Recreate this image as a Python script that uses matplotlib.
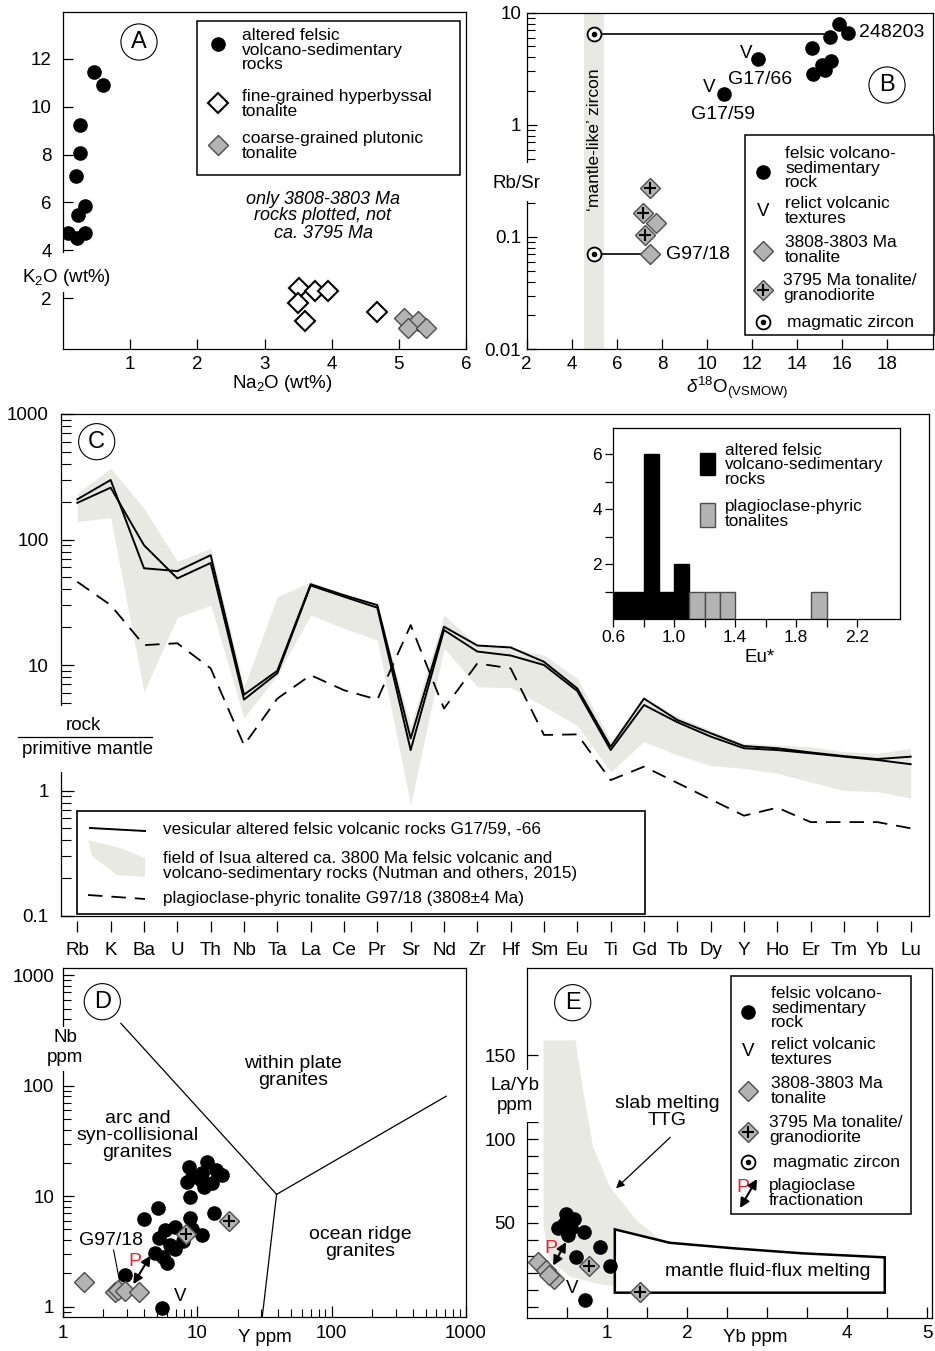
import matplotlib
matplotlib.use('Agg')
import matplotlib.pyplot as plt
import numpy as np
from matplotlib.transforms import Affine2D
from matplotlib.lines import Line2D
from matplotlib.patches import Rectangle, Polygon, FancyArrowPatch
from matplotlib.ticker import LogLocator, NullFormatter

plt.rcParams['font.family'] = ['Liberation Sans', 'DejaVu Sans']
plt.rcParams['mathtext.fontset'] = 'custom'
plt.rcParams['mathtext.rm'] = 'Liberation Sans'
plt.rcParams['mathtext.it'] = 'Liberation Sans:italic'
plt.rcParams['axes.linewidth'] = 0.9

# ---------------- data ----------------
# A: Na2O vs K2O (wt%)
a_na2o_felsic = [0.46, 0.59, 0.25, 0.26, 0.20, 0.33, 0.22, 0.08, 0.21, 0.33]
a_k2o_felsic = [11.46, 10.89, 9.23, 8.05, 7.10, 5.85, 5.48, 4.74, 4.50, 4.74]
a_na2o_fine = [3.51, 3.75, 3.95, 3.50, 3.60, 4.67]
a_k2o_fine = [2.42, 2.32, 2.32, 1.79, 1.05, 1.44]
a_na2o_coarse = [5.07, 5.29, 5.13, 5.41]
a_k2o_coarse = [1.17, 1.03, 0.75, 0.75]

# B: d18O vs Rb/Sr
b_d18o_felsic = [15.88, 15.46, 16.27, 14.68, 12.28, 15.49, 15.09, 14.72, 15.24, 10.76]
b_rbsr_felsic = [7.86, 6.05, 6.62, 4.80, 3.87, 3.69, 3.40, 2.86, 3.11, 1.88]
b_d18o_ton = [7.74, 7.47]
b_rbsr_ton = [0.133, 0.070]
b_d18o_3795 = [7.47, 7.18, 7.25]
b_rbsr_3795 = [0.271, 0.162, 0.1035]
b_d18o_zircon = [5.0, 5.0]
b_rbsr_zircon = [6.5, 0.07]
b_tie_end = [15.3, 7.3]
b_mantle_band = (4.55, 5.45)

# C: primitive-mantle normalised patterns
elements = ['Rb', 'K', 'Ba', 'U', 'Th', 'Nb', 'Ta', 'La', 'Ce', 'Pr', 'Sr', 'Nd', 'Zr',
            'Hf', 'Sm', 'Eu', 'Ti', 'Gd', 'Tb', 'Dy', 'Y', 'Ho', 'Er', 'Tm', 'Yb', 'Lu']
c_g1759 = [209, 298, 59, 56, 75, 5.8, 9.0, 44, 36, 30, 2.6, 20.2, 14.3, 13.8, 10.6, 6.5,
           2.23, 5.4, 3.65, 2.86, 2.26, 2.17, 2.01, 1.88, 1.78, 1.86]
c_g1766 = [196, 259, 90, 49, 65, 5.3, 8.6, 43, 35, 28.6, 2.1, 19.0, 12.8, 11.9, 10.0, 6.2,
           2.1, 4.8, 3.5, 2.69, 2.17, 2.1, 1.98, 1.86, 1.75, 1.62]
c_g9718 = [46, 30, 14.4, 14.9, 9.4, 2.3, 5.4, 8.3, 6.3, 5.3, 20.8, 4.5, 10.3, 9.4, 2.77, 2.8,
           1.21, 1.55, 1.15, 0.85, 0.63, 0.73, 0.56, 0.56, 0.56, 0.50]
c_field_hi = [233, 369, 177, 67, 85, 6.7, 35, 46, 37, 30, 3.3, 25, 14.4, 13.8, 12, 7.8,
              2.5, 5.4, 3.9, 3.03, 2.38, 2.3, 2.23, 2.04, 1.98, 2.17]
c_field_lo = [139, 149, 6.1, 24, 30, 3.8, 8.3, 25, 19.6, 15.8, 0.77, 13.6, 6.7, 6.6, 4.7, 3.3,
              1.41, 2.45, 1.92, 1.58, 1.5, 1.37, 1.17, 1.0, 0.98, 0.87]

# C inset: Eu* histogram
eu_bins_felsic = [0.6, 0.7, 0.8, 0.9, 1.0]
eu_counts_felsic = [1, 1, 6, 1, 2]
eu_bins_tonalite = [1.1, 1.2, 1.3, 1.9]
eu_counts_tonalite = [1, 1, 1, 1]

# D: Y vs Nb (ppm)
d_y_felsic = [8.66, 11.9, 13.7, 15.4, 9.2, 10.9, 10.6, 11.2, 12.9, 8.4, 8.9, 5.1, 4.0, 13.3,
              8.9, 5.8, 6.9, 5.2, 10.9, 9.2, 6.3, 4.9, 5.6, 6.0, 6.9, 7.9, 2.9, 5.5]
d_nb_felsic = [18.5, 20.5, 17.3, 15.6, 15.0, 16.1, 14.0, 12.2, 13.1, 13.5, 9.9, 7.8, 6.2, 7.0,
               6.3, 4.9, 5.3, 4.2, 4.5, 5.1, 3.6, 3.04, 2.8, 2.5, 3.3, 3.9, 1.94, 0.97]
d_y_ton = [1.43, 2.46, 2.6, 2.92, 3.7]
d_nb_ton = [1.66, 1.37, 1.42, 1.40, 1.35]
d_y_3795 = [8.2, 17.4]
d_nb_3795 = [4.55, 6.0]
d_triple = (39, 10.4)
d_bound_ends = [(2.71, 367), (713, 80.5), (30.5, 0.807)]

# E: Yb vs La/Yb
e_yb_felsic = [0.49, 0.59, 0.39, 0.72, 0.55, 0.51, 0.47, 0.91, 0.62, 1.04, 0.73]
e_layb_felsic = [55, 52, 46.7, 44.6, 46.7, 42.7, 49.6, 35.7, 29.4, 24.2, 4.0]
e_yb_ton = [0.14, 0.24, 0.34, 0.28]
e_layb_ton = [26.8, 21.8, 16.3, 18.9]
e_yb_3795 = [0.78, 1.41]
e_layb_3795 = [24.2, 8.9]
e_ttg_x = [0.21, 0.61, 0.70, 0.83, 1.04, 1.37, 1.62, 1.87, 1.87, 0.95, 0.54, 0.29, 0.21]
e_ttg_y = [159, 159, 130, 95.2, 71.4, 51.6, 41.7, 35.7, 9.9, 12.9, 17.9, 27.8, 47.6]
e_ff_x = [1.10, 1.785, 2.61, 3.44, 4.47, 4.47, 1.10]
e_ff_y = [46.1, 38.1, 34.7, 31.8, 29.4, 8.3, 8.3]

# ---------------- figure ----------------
W, H = 935, 1351
fig = plt.figure(figsize=(W / 100, H / 100), dpi=100)
px = Affine2D().scale(1 / W, -1 / H).translate(0, 1) + fig.transFigure

GRAY = '#b3b3b3'
EDGE = '#4d4d4d'
FIELD = '#e9e9e4'
RED = '#e8262b'
MS_C = 9.5
MS_D = 10


def axes_px(l, t, r, b):
    return fig.add_axes([l / W, 1 - b / H, (r - l) / W, (b - t) / H])


def ftext(x, y, s, **kw):
    kw.setdefault('ha', 'center')
    kw.setdefault('va', 'center')
    return fig.text(x, y, s, transform=px, **kw)


def fmark(x, y, **kw):
    fig.add_artist(Line2D([x], [y], transform=px, **kw))


def fline(xs, ys, **kw):
    fig.add_artist(Line2D(xs, ys, transform=px, **kw))


def fbox(l, t, r, b, lw=1.1):
    fig.add_artist(Rectangle((l, t), r - l, b - t, transform=px, fc='white', ec='black',
                             lw=lw, zorder=1.5))


def gap(x, y0, y1):
    fig.add_artist(Rectangle((x - 5, y0), 17, y1 - y0, transform=px, fc='white', ec='none',
                             zorder=1.2))


def letter(x, y, s):
    ftext(x, y, s, fontsize=17, bbox=dict(boxstyle='circle,pad=0.3', fc='white', ec='black',
                                          lw=0.8))


def m_felsic(x, y):
    fmark(x, y, marker='o', color='black', ms=MS_C)


def m_ton(x, y):
    fmark(x, y, marker='D', mfc=GRAY, mec=EDGE, mew=1, ms=MS_D)


def m_3795(x, y):
    m_ton(x, y)
    fmark(x, y, marker='+', color='black', ms=8, mew=1.5)


def m_zircon(x, y):
    fmark(x, y, marker='o', mfc='white', mec='black', ms=10, mew=1.3)
    fmark(x, y, marker='o', color='black', ms=3)


def plot_3795(ax, x, y):
    ax.plot(x, y, 'D', mfc=GRAY, mec=EDGE, mew=1, ms=MS_D, zorder=4)
    ax.plot(x, y, '+', color='black', ms=8, mew=1.5, zorder=5)


def legend_text(x, y, s, fs=12.5):
    ftext(x, y, s, ha='left', fontsize=fs, linespacing=0.92, zorder=3)


def p_arrow():
    return dict(arrowstyle='<|-|>,head_length=0.55,head_width=0.28', mutation_scale=10,
                color='black', lw=1.5, shrinkA=0, shrinkB=0)


# ---------------- A ----------------
axA = axes_px(63, 12, 466, 349)
axA.set_xlim(0, 6)
axA.set_ylim(-0.12, 13.95)
axA.set_xticks([1, 2, 3, 4, 5, 6])
axA.set_yticks([2, 4, 6, 8, 10, 12])
axA.tick_params(direction='in', length=7, width=0.9, labelsize=13.5)
axA.tick_params(axis='y', pad=8)
axA.tick_params(axis='x', pad=5)
axA.plot(a_na2o_felsic, a_k2o_felsic, 'o', color='black', ms=MS_C)
axA.plot(a_na2o_fine, a_k2o_fine, 'D', mfc='white', mec='black', mew=1.5, ms=MS_D)
axA.plot(a_na2o_coarse, a_k2o_coarse, 'D', mfc=GRAY, mec=EDGE, mew=1, ms=MS_D)
gap(63, 253, 292)
ftext(67, 277, 'K$_2$O (wt%)', fontsize=13.5, zorder=3)
ftext(282, 383, 'Na$_2$O (wt%)', fontsize=13.5)
ftext(323, 216, 'only 3808-3803 Ma\nrocks plotted, not\nca. 3795 Ma', fontsize=13,
      style='italic', linespacing=1.0)
letter(139, 42, 'A')
fbox(197, 21, 460, 175)
m_felsic(218, 44)
legend_text(242, 50, 'altered felsic\nvolcano-sedimentary\nrocks')
fmark(218, 103, marker='D', mfc='white', mec='black', mew=1.5, ms=MS_D)
legend_text(242, 104, 'fine-grained hyperbyssal\ntonalite')
fmark(218, 145, marker='D', mfc=GRAY, mec=EDGE, mew=1, ms=MS_D)
legend_text(242, 146, 'coarse-grained plutonic\ntonalite')

# ---------------- B ----------------
axB = axes_px(526.7, 12.7, 933, 349)
axB.set_yscale('log')
axB.set_xlim(2, 20.03)
axB.set_ylim(0.01, 10)
axB.set_xticks(range(2, 20, 2))
axB.set_yticks([0.01, 0.1, 1, 10], ['0.01', '0.1', '1', '10'])
axB.yaxis.set_minor_locator(LogLocator(subs=np.arange(2, 10)))
axB.yaxis.set_minor_formatter(NullFormatter())
axB.tick_params(direction='in', length=7, width=0.9, labelsize=13.5)
axB.tick_params(which='minor', direction='in', length=6, width=0.8)
axB.tick_params(axis='y', pad=4)
axB.tick_params(axis='x', pad=5)
axB.axvspan(*b_mantle_band, color=FIELD, lw=0, zorder=0)
axB.text(np.mean(b_mantle_band), 0.73, '\u2018mantle-like\u2019 zircon', rotation=90,
         ha='center', va='center', fontsize=12.5)
for xz, yz, xe in zip(b_d18o_zircon, b_rbsr_zircon, b_tie_end):
    axB.plot([xz, xe], [yz, yz], color='black', lw=1.2, zorder=1)
axB.plot(b_d18o_zircon, b_rbsr_zircon, 'o', mfc='white', mec='black', ms=10, mew=1.3, zorder=3)
axB.plot(b_d18o_zircon, b_rbsr_zircon, 'o', color='black', ms=3, zorder=4)
axB.plot(b_d18o_felsic, b_rbsr_felsic, 'o', color='black', ms=MS_C, zorder=3)
axB.plot(b_d18o_ton, b_rbsr_ton, 'D', mfc=GRAY, mec=EDGE, mew=1, ms=MS_D, zorder=3)
plot_3795(axB, b_d18o_3795, b_rbsr_3795)
axB.text(16.75, 6.6, '248203', ha='left', va='center', fontsize=14)
axB.text(11.76, 4.3, 'V', ha='center', va='center', fontsize=13.5)
axB.text(12.36, 2.53, 'G17/66', ha='center', va='center', fontsize=14)
axB.text(10.09, 2.15, 'V', ha='center', va='center', fontsize=13.5)
axB.text(10.73, 1.23, 'G17/59', ha='center', va='center', fontsize=14)
axB.text(8.2, 0.07, 'G97/18', ha='left', va='center', fontsize=14)
gap(526.7, 163, 201)
ftext(517, 184, 'Rb/Sr', fontsize=13.5, zorder=3)
ftext(737, 388, r'$\delta^{18}$O$_{\mathrm{(VSMOW)}}$', fontsize=13.5)
letter(887, 85, 'B')
fbox(745, 135, 934, 335)
m_felsic(763, 172)
legend_text(785, 168, 'felsic volcano-\nsedimentary\nrock')
ftext(763, 212, 'V', fontsize=13.5, zorder=3)
legend_text(785, 211, 'relict volcanic\ntextures')
m_ton(763, 251)
legend_text(785, 250, '3808-3803 Ma\ntonalite')
m_3795(763, 290)
legend_text(783, 288, '3795 Ma tonalite/\ngranodiorite')
m_zircon(763, 322)
legend_text(787, 322, 'magmatic zircon')

# ---------------- C ----------------
axC = axes_px(61, 414, 929, 916)
axC.set_yscale('log')
axC.set_ylim(0.1, 1000)
axC.set_xlim(-0.49, 25.55)
xi = np.arange(len(elements))
axC.fill_between(xi, c_field_lo, c_field_hi, color=FIELD, lw=0, zorder=1)
axC.plot(xi, c_g1759, color='black', lw=1.4, zorder=3)
axC.plot(xi, c_g1766, color='black', lw=1.4, zorder=3)
axC.plot(xi, c_g9718, color='black', lw=1.3, ls=(0, (8, 5)), zorder=3)
axC.set_xticks(xi, elements)
axC.tick_params(axis='x', length=0, pad=19, labelsize=13.5)
axC.vlines(xi, -0.01, -0.032, transform=axC.get_xaxis_transform(), color='black', lw=0.9,
           clip_on=False)
axC.set_yticks([0.1, 1, 10, 100, 1000], ['0.1', '1', '10', '100', '1000'])
axC.yaxis.set_minor_locator(LogLocator(subs=np.arange(2, 10)))
axC.yaxis.set_minor_formatter(NullFormatter())
axC.tick_params(axis='y', which='major', direction='in', length=9, width=0.9, labelsize=13.5,
                pad=9)
axC.tick_params(axis='y', which='minor', direction='in', length=7, width=0.8)
gap(61, 706, 772)
ftext(83, 726, 'rock', fontsize=13.5, zorder=3)
fline([18, 152], [737, 737], color='black', lw=0.9, zorder=3)
ftext(87, 750, 'primitive mantle', fontsize=13.5, zorder=3)
letter(96.7, 441.7, 'C')
fbox(77, 811, 645, 914, lw=1.2)
fline([90, 145], [828, 831], color='black', lw=1.4, zorder=3)
legend_text(163, 830, 'vesicular altered felsic volcanic rocks G17/59, -66', fs=12.3)
fig.add_artist(Polygon([(88, 840), (120, 848), (145, 858), (145, 877), (117, 875), (92, 856)],
                       closed=True, transform=px, fc=FIELD, ec='none', zorder=2))
legend_text(163, 866, 'field of Isua altered ca. 3800 Ma felsic volcanic and\n'
            'volcano-sedimentary rocks (Nutman and others, 2015)', fs=12.3)
fline([88, 145], [895, 899], color='black', lw=1.3, ls=(0, (8, 5)), zorder=3)
legend_text(163, 899, 'plagioclase-phyric tonalite G97/18 (3808\u00b14 Ma)', fs=12.3)

# inset histogram
axI = axes_px(613, 428, 900, 619)
axI.bar(eu_bins_felsic, eu_counts_felsic, width=0.1, align='edge', color='black',
        edgecolor='black', lw=1)
axI.bar(eu_bins_tonalite, eu_counts_tonalite, width=0.1, align='edge', color=GRAY,
        edgecolor=EDGE, lw=1)
axI.set_xlim(0.6, 2.48)
axI.set_ylim(0, 6.95)
xt = np.round(np.arange(0.6, 2.21, 0.2), 1)
axI.set_xticks(xt, [f'{v:.1f}' if i % 2 == 0 else '' for i, v in enumerate(xt)])
axI.set_yticks(range(1, 7), ['', '2', '', '4', '', '6'])
axI.tick_params(direction='out', length=6, width=0.9, labelsize=12.5, pad=2)
ftext(760, 657, 'Eu*', fontsize=13.5)
fig.add_artist(Rectangle((700, 453), 15, 22, transform=px, fc='black', ec='black', zorder=2))
legend_text(725, 465, 'altered felsic\nvolcano-sedimentary\nrocks', fs=12.3)
fig.add_artist(Rectangle((700, 503), 15, 24, transform=px, fc=GRAY, ec=EDGE, lw=1, zorder=2))
legend_text(725, 514, 'plagioclase-phyric\ntonalites', fs=12.3)

# ---------------- D ----------------
axD = axes_px(62.7, 968.3, 466, 1317)
axD.set_xscale('log')
axD.set_yscale('log')
axD.set_xlim(1, 1000)
axD.set_ylim(0.807, 1157)
for xe, ye in d_bound_ends:
    axD.plot([d_triple[0], xe], [d_triple[1], ye], color='black', lw=0.9, zorder=1)
axD.plot(d_y_felsic, d_nb_felsic, 'o', color='black', ms=MS_C, zorder=3)
axD.plot(d_y_ton, d_nb_ton, 'D', mfc=GRAY, mec=EDGE, mew=1, ms=MS_D, zorder=3)
plot_3795(axD, d_y_3795, d_nb_3795)
axD.set_xticks([1, 10, 100, 1000], ['1', '10', '100', '1000'])
axD.set_yticks([1, 10, 100, 1000], ['1', '10', '100', '1000'])
for axis in (axD.xaxis, axD.yaxis):
    axis.set_minor_locator(LogLocator(subs=np.arange(2, 10)))
    axis.set_minor_formatter(NullFormatter())
axD.tick_params(which='major', direction='in', length=8, width=0.9, labelsize=13.5, pad=6)
axD.tick_params(which='minor', direction='in', length=6, width=0.8)
axD.text(52, 134, 'within plate\ngranites', ha='center', va='center', fontsize=14,
         linespacing=1.0)
axD.text(3.6, 35.8, 'arc and\nsyn-collisional\ngranites', ha='center', va='center',
         fontsize=14, linespacing=1.0)
axD.text(163, 3.75, 'ocean ridge\ngranites', ha='center', va='center', fontsize=14,
         linespacing=1.0)
axD.text(2.29, 4.0, 'G97/18', ha='center', va='center', fontsize=14)
axD.plot([2.39, 2.64], [3.26, 1.74], color='black', lw=0.8)
axD.text(3.46, 2.55, 'P', ha='center', va='center', fontsize=14, color=RED)
axD.add_patch(FancyArrowPatch((4.5, 2.9), (3.35, 1.6), zorder=5, **p_arrow()))
axD.text(7.53, 1.25, 'V', ha='center', va='center', fontsize=13.5)
gap(62.7, 1027, 1071)
ftext(65, 1037, 'Nb', fontsize=13.5, zorder=3)
ftext(65, 1057, 'ppm', fontsize=13.5, zorder=3)
ftext(265, 1337, 'Y ppm', fontsize=13.5)
letter(102.3, 1001.7, 'D')

# ---------------- E ----------------
axE = axes_px(526.7, 968.3, 931.7, 1318.3)
axE.set_xlim(0, 5.056)
axE.set_ylim(-7, 202)
axE.add_patch(Polygon(np.column_stack([e_ttg_x, e_ttg_y]), closed=True, fc=FIELD, ec='none',
                      zorder=0))
axE.add_patch(Polygon(np.column_stack([e_ff_x, e_ff_y]), closed=True, fc='white', ec='black',
                      lw=1.8, zorder=1))
axE.plot(e_yb_felsic, e_layb_felsic, 'o', color='black', ms=MS_C, zorder=3)
axE.plot(e_yb_ton, e_layb_ton, 'D', mfc=GRAY, mec=EDGE, mew=1, ms=MS_D, zorder=3)
plot_3795(axE, e_yb_3795, e_layb_3795)
axE.set_yticks(range(0, 151, 10), ['50' if v == 50 else '100' if v == 100 else
                                   '150' if v == 150 else '' for v in range(0, 151, 10)])
xt = np.arange(0.5, 5.01, 0.5)
axE.set_xticks(xt, [f'{v:g}' if v in (1, 2, 4, 5) else '' for v in xt])
axE.tick_params(direction='in', length=8, width=0.9, labelsize=13.5)
axE.tick_params(axis='y', pad=8)
axE.tick_params(axis='x', pad=5)
axE.text(1.756, 116, 'slab melting\nTTG', ha='center', va='center', fontsize=14, linespacing=1.0)
axE.annotate('', xy=(1.09, 69.5), xytext=(1.818, 102.2),
             arrowprops=dict(arrowstyle='-|>', color='black', lw=0.9, mutation_scale=12))
axE.text(3.01, 20.8, 'mantle fluid-flux melting', ha='center', va='center', fontsize=14,
         zorder=4)
axE.text(0.30, 34.8, 'P', ha='center', va='center', fontsize=14, color=RED, zorder=5)
axE.add_patch(FancyArrowPatch((0.49, 38.5), (0.33, 24.5), zorder=5, **p_arrow()))
axE.text(0.57, 10.5, 'V', ha='center', va='center', fontsize=13.5)
gap(526.7, 1070, 1122)
ftext(515, 1086, 'La/Yb', fontsize=13.5, zorder=3)
ftext(515, 1106, 'ppm', fontsize=13.5, zorder=3)
ftext(755, 1338, 'Yb ppm', fontsize=13.5)
letter(572.7, 1002.7, 'E')
fbox(731, 976, 911, 1214)
m_felsic(748, 1012)
legend_text(771, 1008, 'felsic volcano-\nsedimentary\nrock')
ftext(748, 1051, 'V', fontsize=13.5, zorder=3)
legend_text(771, 1052, 'relict volcanic\ntextures')
m_ton(748, 1091)
legend_text(771, 1091, '3808-3803 Ma\ntonalite')
m_3795(748, 1132)
legend_text(769, 1130, '3795 Ma tonalite/\ngranodiorite')
m_zircon(748, 1162)
legend_text(773, 1162, 'magmatic zircon')
ftext(743, 1187, 'P', fontsize=14, color=RED, zorder=3)
fig.add_artist(FancyArrowPatch((757, 1179), (740, 1208), transform=px, zorder=4, **p_arrow()))
legend_text(769, 1193, 'plagioclase\nfractionation')

fig.savefig('out.png', dpi=100)
